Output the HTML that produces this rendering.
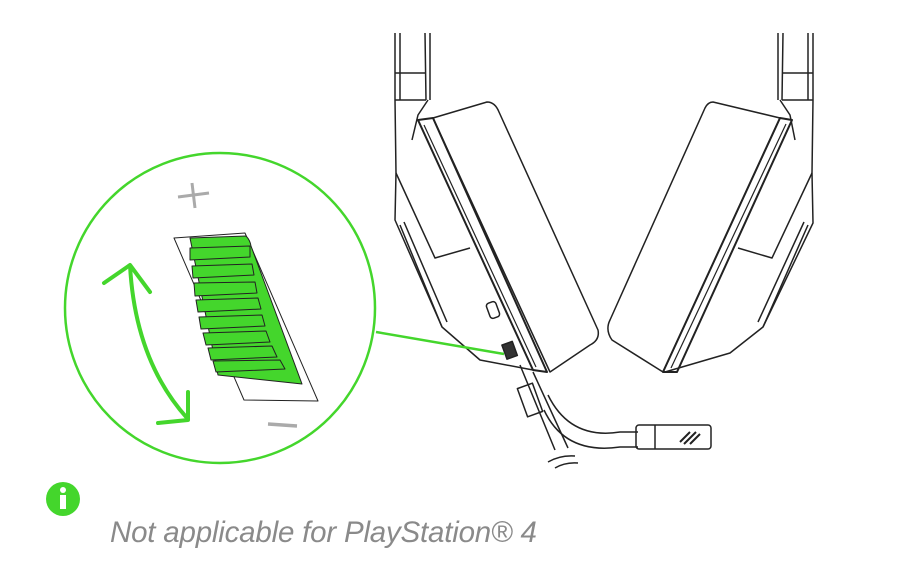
<!DOCTYPE html>
<html><head><style>
body{margin:0;background:#fff;width:898px;height:571px;overflow:hidden;position:relative}
.t{position:absolute;left:110px;top:516px;font:italic 29.5px "Liberation Sans",sans-serif;color:#8a8a8a;letter-spacing:-0.2px}
</style></head><body>
<svg width="898" height="571" style="position:absolute;left:0;top:0" fill="none" stroke="#222" stroke-width="1.5" stroke-linejoin="round">
<path d="M395 33 L395 100 L396 173 L395 220 L442 327 L480 360 L533 370"/>
<path d="M400 33 L400 100 M425 33 L426 100 M430 33 L430 100 M395 73 L426 73 M395 100 L426 100 M428 100 L418 115 L412 140"/>
<path d="M396 173 L435 258 L470 248 M400 225 L442 327 M404 222 L447 322"/>
<path d="M433 118 L487 102 Q495 102 499 112 L598 330 Q600 340 590 345 L550 372 Z"/>
<path d="M418 120 L433 118 L547 372 L533 370 Z" stroke-width="2"/>
<path d="M424 125 L536 367" stroke-width="1.2"/>
<rect x="488" y="302" width="10" height="16" rx="3" transform="rotate(-20 493 310)"/>
<rect x="504" y="343" width="11" height="15" fill="#333" transform="rotate(-20 509 350)"/>
<path d="M813 33 L813 100 L812 173 L813 223 L763 327 L730 353 L665 372"/>
<path d="M808 33 L808 100 M783 33 L782 100 M778 33 L778 100 M782 73 L813 73 M782 100 L813 100 M780 100 L790 115 L795 140"/>
<path d="M812 173 L772 258 L738 248 M808 225 L763 327 M804 222 L758 322"/>
<path d="M713 102 L780 118 L663 372 L612 340 Q605 330 610 320 L705 108 Q708 102 713 102 Z"/>
<path d="M780 118 L792 120 L677 372 L663 372 Z" stroke-width="2"/>
<path d="M786 124 L671 368" stroke-width="1.2"/>
<path d="M520 365 L555 450 M533 372 L568 448"/>
<rect x="522" y="385" width="16" height="30" transform="rotate(-20 530 400)"/>
<path d="M548 395 Q570 440 620 432 L638 432 M544 410 Q565 455 620 447 L638 447"/>
<rect x="636" y="425" width="75" height="24" rx="3"/>
<path d="M655 425 L655 449"/>
<path d="M680 442 L690 432 M684 444 L696 432 M690 444 L700 434" stroke-width="2"/>
<path d="M548 462 Q560 455 575 456 M555 468 Q565 462 578 463"/>
<circle cx="220" cy="308" r="155" stroke="#44d62c" stroke-width="2.5"/>
<path d="M376 332 L504 354" stroke="#44d62c" stroke-width="2.5"/>
<path d="M174 238 L245 233 L318 401 L244 400 Z" stroke-width="1"/>
<path d="M190 238 L246 236 Q250 240 251 246 L302 384 L218 375 Z" fill="#44d62c" stroke="#222" stroke-width="1"/>
<g stroke="#222" stroke-width="1" fill="#44d62c">
<path d="M190 248 L250 246 L250 257 L190 260 Z"/>
<path d="M192 266 L252 264 L254 275 L193 278 Z"/>
<path d="M194 283 L255 282 L257 293 L195 296 Z"/>
<path d="M196 300 L258 298 L261 309 L198 312 Z"/>
<path d="M199 317 L262 315 L265 326 L201 329 Z"/>
<path d="M203 333 L266 331 L270 342 L206 345 Z"/>
<path d="M208 348 L272 346 L277 357 L211 360 Z"/>
<path d="M213 361 L280 360 L285 369 L216 372 Z"/>
</g>
<path d="M178 197 L209 193 M192 183 L195 208" stroke="#aaa" stroke-width="3"/>
<path d="M268 424 L297 426" stroke="#aaa" stroke-width="3.5"/>
<path d="M130 265 Q135 360 187 418" stroke="#44d62c" stroke-width="4"/>
<path d="M104 283 L130 265 L150 292 M188 392 L188 420 L158 423" stroke="#44d62c" stroke-width="4" stroke-linecap="round"/>
</svg>
<svg width="40" height="40" style="position:absolute;left:44px;top:480px">
<circle cx="19" cy="19" r="17" fill="#44d62c"/>
<circle cx="19" cy="10" r="3" fill="#fff"/>
<rect x="16" y="15" width="6" height="14" fill="#fff"/>
</svg>
<div class="t">Not applicable for PlayStation® 4</div>
</body></html>
